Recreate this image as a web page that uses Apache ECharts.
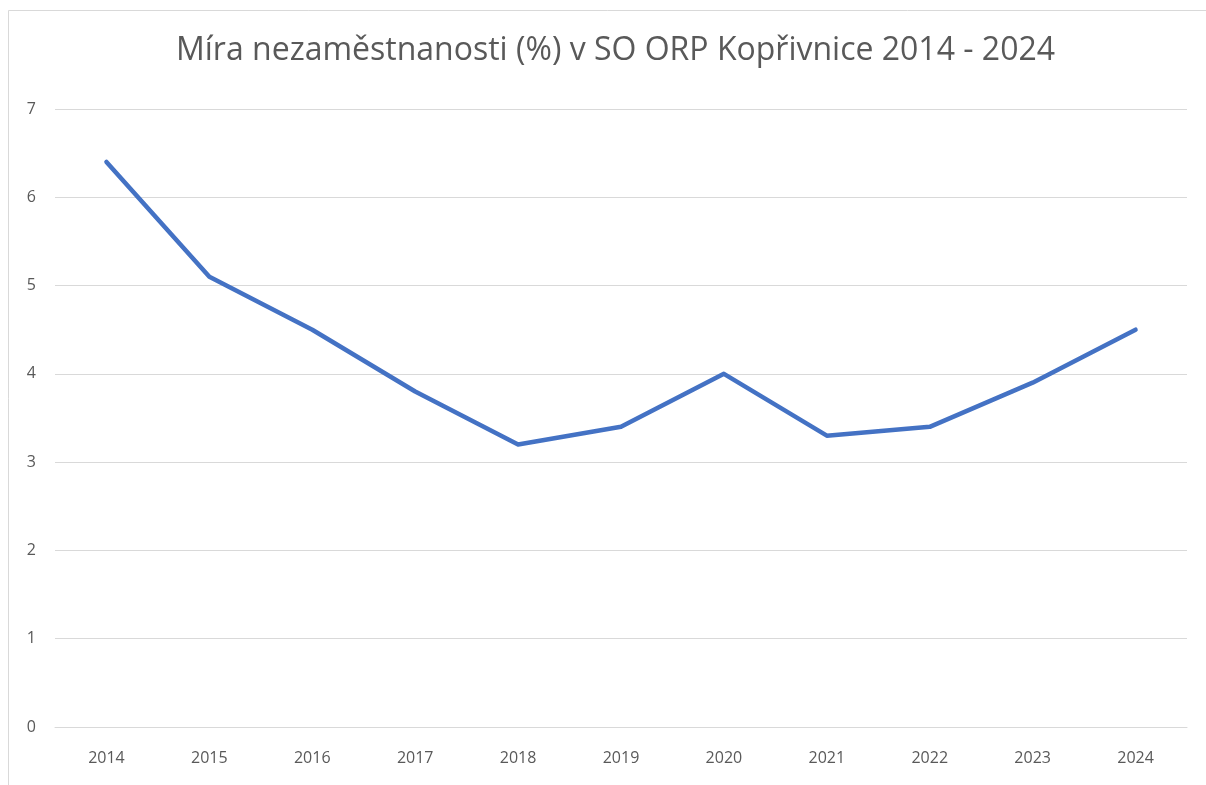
<!DOCTYPE html>
<html>
<head>
<meta charset="utf-8">
<script src="https://cdn.jsdelivr.net/npm/echarts@6/dist/echarts.min.js"></script>
<style>
  html, body { margin: 0; padding: 0; background: #fff; }
  #chart { width: 1206px; height: 785px; }
</style>
</head>
<body>
<div id="chart"></div>
<script>
const years = ["2014", "2015", "2016", "2017", "2018", "2019", "2020", "2021", "2022", "2023", "2024"];
const unemployment = [6.4, 5.1, 4.5, 3.8, 3.2, 3.4, 4.0, 3.3, 3.4, 3.9, 4.5];
const titleText = "Míra nezaměstnanosti (%) v SO ORP Kopřivnice 2014 - 2024";

const chart = echarts.init(document.getElementById("chart"));
chart.setOption({
  animation: false,
  backgroundColor: "#fff",
  graphic: [
    {
      type: "rect",
      shape: { x: 8.5, y: 10.5, width: 1210, height: 800 },
      style: { fill: "none", stroke: "#d9d9d9", lineWidth: 1 },
      silent: true,
    },
  ],
  title: {
    text: titleText,
    left: 171,
    top: 30,
    textStyle: {
      fontFamily: "Open Sans",
      fontSize: 32,
      fontWeight: "normal",
      color: "#595959",
    },
  },
  grid: { left: 55, right: 19, top: 109, bottom: 58, containLabel: false },
  xAxis: {
    type: "category",
    data: years,
    boundaryGap: true,
    axisLine: { show: true, lineStyle: { color: "#d9d9d9", width: 1 } },
    axisTick: { show: false },
    axisLabel: {
      margin: 23,
      fontFamily: "Open Sans",
      fontSize: 16,
      color: "#595959",
    },
  },
  yAxis: {
    type: "value",
    min: 0,
    max: 7,
    interval: 1,
    axisLine: { show: false },
    axisTick: { show: false },
    splitLine: { lineStyle: { color: "#d9d9d9", width: 1 } },
    axisLabel: {
      margin: 19,
      fontFamily: "Open Sans",
      fontSize: 16,
      color: "#595959",
    },
  },
  series: [
    {
      name: "Míra nezaměstnanosti",
      type: "line",
      data: unemployment,
      symbol: "none",
      smooth: false,
      lineStyle: { color: "#4472c4", width: 4.5, cap: "round", join: "round" },
    },
  ],
});
</script>
</body>
</html>
